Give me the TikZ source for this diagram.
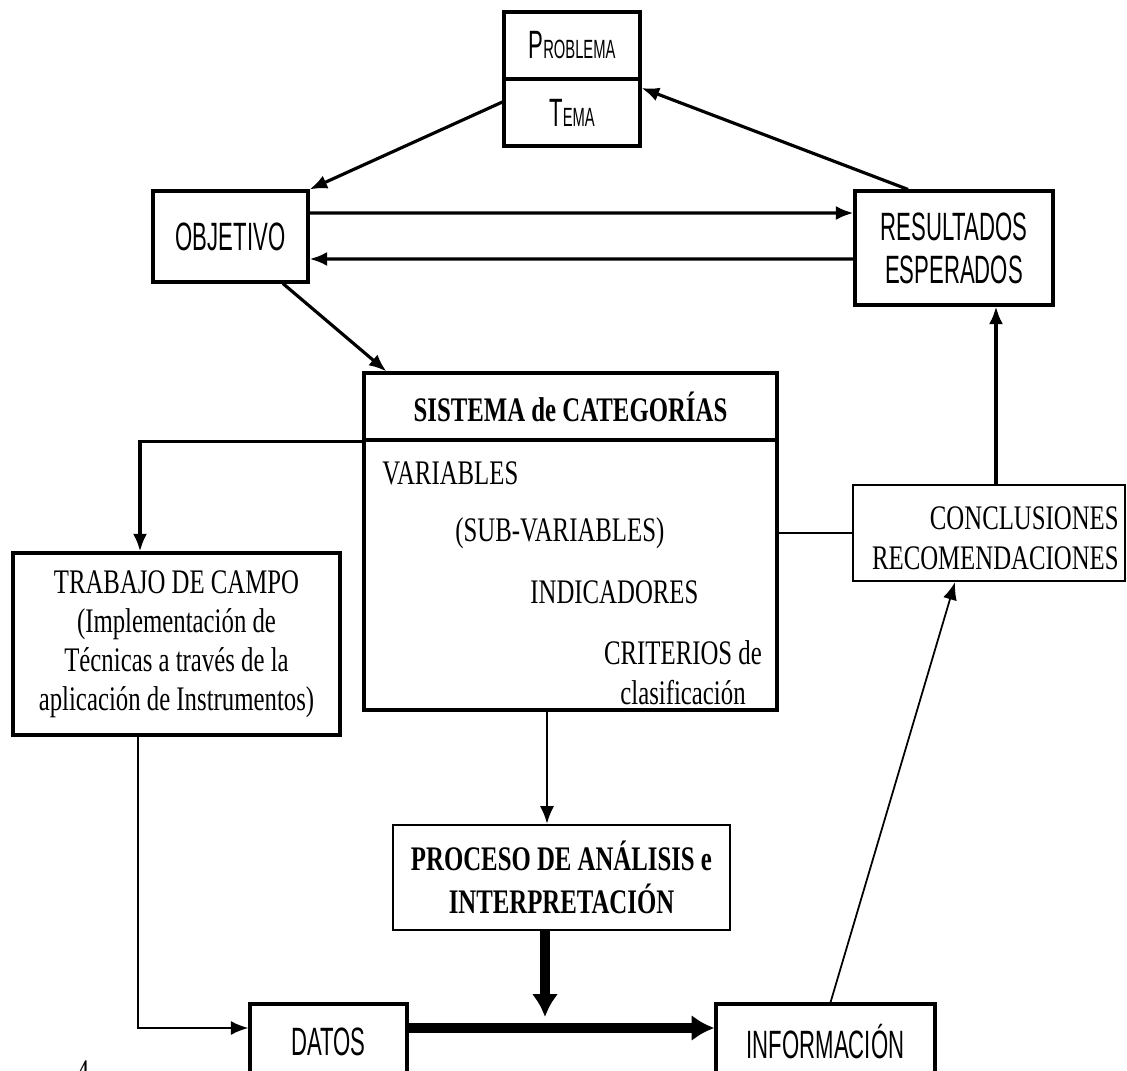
\documentclass[tikz,border=0pt]{standalone}
\usepackage{fontspec}
\setmainfont{Liberation Serif}[FakeStretch=0.72]
\newfontfamily\condsans{Liberation Sans}[FakeStretch=0.56]
\usetikzlibrary{arrows.meta}
\begin{document}
\begin{tikzpicture}[x=0.02cm,y=-0.02cm,
  box/.style={draw, line width=1.8pt, inner sep=0pt},
  sfont/.style={font=\condsans\fontsize{22.5}{24.4}\selectfont},
  rfont/.style={font=\fontsize{19.6}{22.2}\selectfont},
  bfont/.style={font=\bfseries\fontsize{19.6}{24.4}\selectfont},
  con/.style={line width=1.8pt, -{Latex[length=10pt,width=8pt]}},
  thinarr/.style={line width=1.2pt, -{Latex[length=10pt,width=8pt]}},
  heavy/.style={line width=5.5pt, -{Latex[length=13pt,width=15pt]}},
]
\useasboundingbox (0,0) rectangle (1127,1071);
\clip (0,0) rectangle (1127,1071);

% Problema / Tema
\node[box, sfont, minimum width=2.72cm, minimum height=1.34cm] (probtop) at (572,45.5) {P{\fontsize{15}{16}\selectfont ROBLEMA}};
\node[box, sfont, minimum width=2.72cm, minimum height=1.34cm] (probbot) at (572,112.5) {T{\fontsize{15}{16}\selectfont EMA}};

% Objetivo / Resultados
\node[box, sfont, minimum width=3.1cm, minimum height=1.82cm] (obj) at (230.5,236.5) {OBJETIVO};
\node[box, sfont, align=center, minimum width=3.96cm, minimum height=2.28cm] (res) at (954,248) {RESULTADOS\\ESPERADOS};

% Sistema de categorias
\node[box, bfont, minimum width=8.26cm, minimum height=1.34cm] (sistit) at (570.5,406.5) {SISTEMA de CATEGORÍAS};
\node[box, minimum width=8.26cm, minimum height=5.4cm] (sisbody) at (570.5,575) {};
\node[rfont, anchor=west, inner sep=0pt] (var) at (382,473) {VARIABLES};
\node[rfont, anchor=west, inner sep=0pt] (subvar) at (455,533) {(SUB-VARIABLES)};
\node[rfont, anchor=west, inner sep=0pt] (ind) at (530,592) {INDICADORES};
\node[rfont, align=center, inner sep=0pt, font=\fontsize{19.6}{22.7}\selectfont] (crit) at (683,673) {CRITERIOS de\\clasificación};

% Trabajo de campo
\node[box, rfont, align=center, minimum width=6.54cm, minimum height=3.64cm] (trab) at (176.5,644) {TRABAJO DE CAMPO\\(Implementación de\\Técnicas a través de la\\aplicación de Instrumentos)};

% Conclusiones
\node[box, line width=1.4pt, minimum width=5.44cm, minimum height=1.92cm] (conc) at (989,533) {};
\node[rfont, align=right, anchor=east, inner sep=0pt, font=\fontsize{19.6}{22.7}\selectfont] (conctxt) at (1119,538) {CONCLUSIONES\\RECOMENDACIONES};

% Proceso
\node[box, line width=1.4pt, bfont, align=center, minimum width=6.74cm, minimum height=2.1cm] (proc) at (561.5,877.5) {PROCESO DE ANÁLISIS e\\INTERPRETACIÓN};

% Datos / Informacion
\node[box, sfont, minimum width=3.14cm, minimum height=1.52cm] (datos) at (328.5,1042) {DATOS};
\node[box, sfont, minimum width=4.38cm, minimum height=1.52cm] (info) at (825.5,1042) {INFORMACIÓN};

\node[rfont, anchor=north, inner sep=0pt] (pg) at (83,1060) {4};

% connectors
\draw[con] ([yshift=0.21cm]probbot.west) -- (obj.north east);
\draw[con] ([xshift=-0.92cm]res.north) -- ([yshift=0.49cm]probbot.east);
\draw[con] ([yshift=0.47cm]obj.east) -- ([yshift=0.7cm]res.west);
\draw[con] ([yshift=-0.22cm]res.west) -- ([yshift=-0.45cm]obj.east);
\draw[con] ([xshift=1.05cm]obj.south) -- ([xshift=0.48cm]sistit.north west);
\draw[con] (sistit.south west) -| ([xshift=-0.73cm]trab.north);
\draw[line width=1.2pt] (conc.west) -- (conc.west -| sisbody.east);
\coordinate (c1) at ([xshift=0.14cm]conc.north);
\draw[con] (c1) -- (c1 |- res.south);
\coordinate (s1) at ([xshift=-0.47cm]sisbody.south);
\draw[thinarr] (s1) -- (s1 |- proc.north);
\draw[thinarr] ([xshift=-0.77cm]trab.south) |- ([yshift=0.28cm]datos.west);
\draw[heavy] ([yshift=0.28cm]datos.east) -- ([yshift=0.28cm]info.west);
\coordinate (pj) at (545,1017);
\draw[heavy] ([xshift=-0.33cm]proc.south) -- (pj);
\draw[line width=1pt, -{Latex[length=10pt,width=8pt]}] ([xshift=0.1cm]info.north) -- ([xshift=-0.68cm]conc.south);
\end{tikzpicture}
\end{document}
